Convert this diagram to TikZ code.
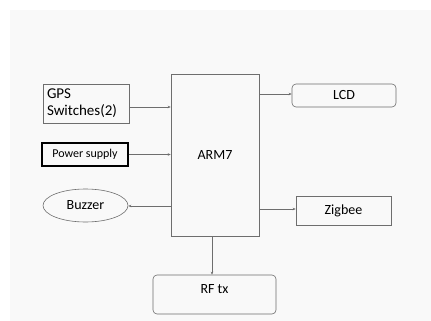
\documentclass[tikz,border=0pt]{standalone}
\usepackage{fontspec}
\setmainfont{Carlito}
\usetikzlibrary{arrows.meta,shapes.geometric}

\definecolor{slide}{RGB}{249,249,249}
\definecolor{edge}{RGB}{110,110,110}

\tikzset{
  blk/.style={draw=edge, line width=0.6pt, minimum width=#1, font=\fontsize{14}{16}\selectfont},
  blk/.default=86pt,
  rblk/.style={blk=#1, rounded corners=4pt},
  arr/.style={draw=edge, line width=0.5pt, -{Stealth[length=3pt,width=2.5pt]}}
}

\begin{document}
\begin{tikzpicture}[x=1pt,y=-1pt]
  \useasboundingbox (0,0) rectangle (431,321);
  \fill[slide] (10,10) rectangle (431,321);

  % blocks
  \node[blk=86pt, minimum height=39pt, align=left, text width=78pt,
        font=\fontsize{15}{17}\selectfont] (gps) at (86,103.5) {GPS\\Switches(2)};
  \node[draw=black, line width=1.3pt, minimum width=86pt, minimum height=23pt,
        font=\fontsize{12}{14}\selectfont] (pwr) at (85,154.5) {Power supply};
  \node[ellipse, draw=edge, line width=0.6pt, minimum width=85pt, minimum height=33pt,
        font=\fontsize{14}{16}\selectfont] (buz) at (85.5,205.5) {Buzzer};
  \node[blk=88pt, minimum height=162pt] (arm) at (215,155) {ARM7};
  \node[rblk=104pt, minimum height=23pt] (lcd) at (344,95.5) {LCD};
  \node[blk=95pt, minimum height=29pt] (zig) at (343.5,210.5) {Zigbee};
  \node[rblk=123pt, minimum height=39pt, text depth=11pt] (rf) at (214.5,294.5) {RF tx};
  \coordinate (armout) at ([xshift=-3pt]arm.south);

  % connections
  \draw[arr] (gps.east |- 0,107) -- (arm.west |- 0,107);
  \draw[arr] (pwr.east) -- (arm.west |- pwr.east);
  \draw[arr] (arm.west |- 0,206) -- (buz.east |- 0,206);
  \draw[arr] (arm.east |- 0,94) -- (lcd.west |- 0,94);
  \draw[arr] (arm.east |- 0,209) -- (zig.west |- 0,209);
  \draw[arr] (armout) -- (armout |- rf.north);
\end{tikzpicture}
\end{document}
